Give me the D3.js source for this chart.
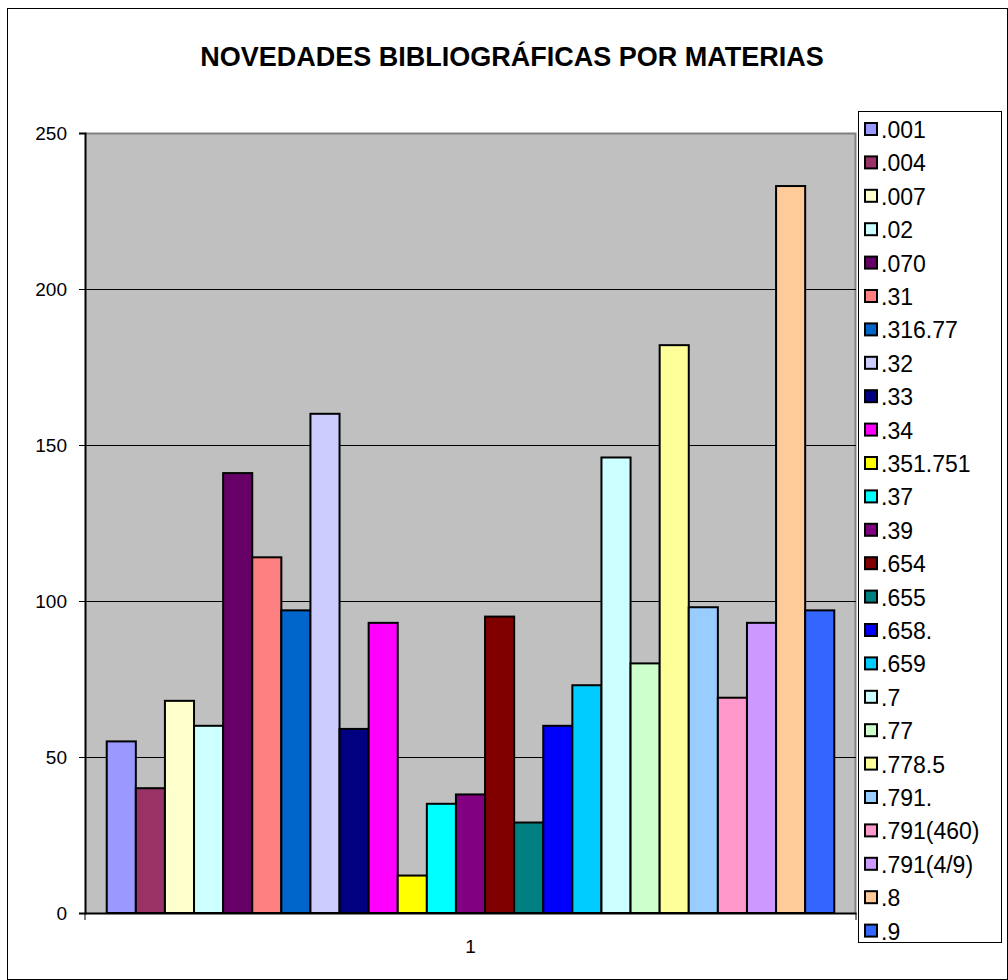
<!DOCTYPE html>
<html>
<head>
<meta charset="utf-8">
<script src="https://cdn.jsdelivr.net/npm/d3@7"></script>
<style>
  body { margin: 0; background: #fff; }
  text { font-family: "Liberation Sans", Arial, sans-serif; }
</style>
</head>
<body>
<div id="chart"></div>
<script>
// data
var categories = ["1"];
var series = [".001", ".004", ".007", ".02", ".070", ".31", ".316.77", ".32", ".33", ".34",
  ".351.751", ".37", ".39", ".654", ".655", ".658.", ".659", ".7", ".77", ".778.5",
  ".791.", ".791(460)", ".791(4/9)", ".8", ".9"];
var values = [55, 40, 68, 60, 141, 114, 97, 160, 59, 93,
  12, 35, 38, 95, 29, 60, 73, 146, 80, 182,
  98, 69, 93, 233, 97];
var colors = ["#9999FF", "#993366", "#FFFFCC", "#CCFFFF", "#660066", "#FF8080", "#0066CC", "#CCCCFF", "#000080", "#FF00FF",
  "#FFFF00", "#00FFFF", "#800080", "#800000", "#008080", "#0000FF", "#00CCFF", "#CCFFFF", "#CCFFCC", "#FFFF99",
  "#99CCFF", "#FF99CC", "#CC99FF", "#FFCC99", "#3366FF"];
var yTicks = [0, 50, 100, 150, 200, 250];

var W = 1008, H = 980;
var margin = {top: 133, right: 152, bottom: 67, left: 85},
    width = W - margin.left - margin.right,
    height = H - margin.top - margin.bottom;

var svg = d3.select("#chart").append("svg")
    .attr("width", W)
    .attr("height", H);

// outer chart frame
svg.append("rect")
    .attr("x", 7.5).attr("y", 8.5)
    .attr("width", W - 8).attr("height", H - 9)
    .attr("fill", "#fff").attr("stroke", "#000").attr("stroke-width", 1);

svg.append("text")
    .attr("x", 512).attr("y", 66)
    .attr("text-anchor", "middle")
    .attr("font-size", 27).attr("font-weight", "bold")
    .text("NOVEDADES BIBLIOGRÁFICAS POR MATERIAS");

var g = svg.append("g")
    .attr("transform", "translate(" + margin.left + "," + margin.top + ")");

var x0 = d3.scaleBand().domain(categories).range([0, width]).padding(0.029);
var x1 = d3.scaleBand().domain(series).range([0, x0.bandwidth()]);
var y = d3.scaleLinear().domain([0, 250]).range([height, 0]);
var color = d3.scaleOrdinal().domain(series).range(colors);

// plot area
g.append("rect")
    .attr("width", width).attr("height", height)
    .attr("fill", "#C0C0C0");
g.append("path")
    .attr("d", "M0,0.5H" + (width - 0.5) + "V" + height)
    .attr("fill", "none").attr("stroke", "#808080").attr("stroke-width", 2);

// gridlines
g.append("g")
  .selectAll("line")
  .data(yTicks.filter(function(d) { return d > 0 && d < 250; }))
  .enter().append("line")
    .attr("x1", 0).attr("x2", width)
    .attr("y1", function(d) { return Math.round(y(d)) + 0.5; })
    .attr("y2", function(d) { return Math.round(y(d)) + 0.5; })
    .attr("stroke", "#000").attr("stroke-width", 1);

// bars
g.append("g")
  .selectAll("g")
  .data(categories)
  .enter().append("g")
    .attr("transform", function(c) { return "translate(" + x0(c) + ",0)"; })
  .selectAll("rect")
  .data(series.map(function(s, i) { return {key: s, value: values[i]}; }))
  .enter().append("rect")
    .attr("x", function(d) { return x1(d.key); })
    .attr("y", function(d) { return y(d.value); })
    .attr("width", x1.bandwidth())
    .attr("height", function(d) { return height - y(d.value); })
    .attr("fill", function(d) { return color(d.key); })
    .attr("stroke", "#000").attr("stroke-width", 2);

// axes
var yAxis = g.append("g")
    .call(d3.axisLeft(y).tickValues(yTicks).tickSize(6).tickPadding(12));
yAxis.select(".domain").attr("stroke", "#000").attr("stroke-width", 2);
yAxis.selectAll("text").attr("font-size", 19).attr("fill", "#000");
yAxis.selectAll("line").attr("stroke", "#000");

var xAxis = g.append("g")
    .attr("transform", "translate(0," + height + ")")
    .call(d3.axisBottom(d3.scaleBand().domain(categories).range([0, width])).tickSize(0).tickPadding(27));
xAxis.select(".domain").attr("stroke", "#000").attr("stroke-width", 2);
xAxis.selectAll("text").attr("font-size", 19).attr("fill", "#000");
// category boundary ticks
xAxis.selectAll(".edge")
  .data([0, width])
  .enter().append("line")
    .attr("x1", function(d) { return d; }).attr("x2", function(d) { return d; })
    .attr("y1", 0).attr("y2", 7)
    .attr("stroke", "#000");

// legend
var legend = svg.append("g")
    .attr("transform", "translate(858,111)");
legend.append("rect")
    .attr("x", 0.5).attr("y", 0.5)
    .attr("width", 143).attr("height", 831)
    .attr("fill", "#fff").attr("stroke", "#000");

var item = legend.selectAll(".item")
  .data(series)
  .enter().append("g")
    .attr("transform", function(d, i) { return "translate(0," + (19 + i * 33.4) + ")"; });
item.append("rect")
    .attr("x", 7).attr("y", -7)
    .attr("width", 12).attr("height", 12)
    .attr("fill", function(d) { return color(d); })
    .attr("stroke", "#000").attr("stroke-width", 2);
item.append("text")
    .attr("x", 23).attr("y", 0)
    .attr("dy", "0.35em")
    .attr("font-size", 23)
    .text(function(d) { return d; });
</script>
</body>
</html>
